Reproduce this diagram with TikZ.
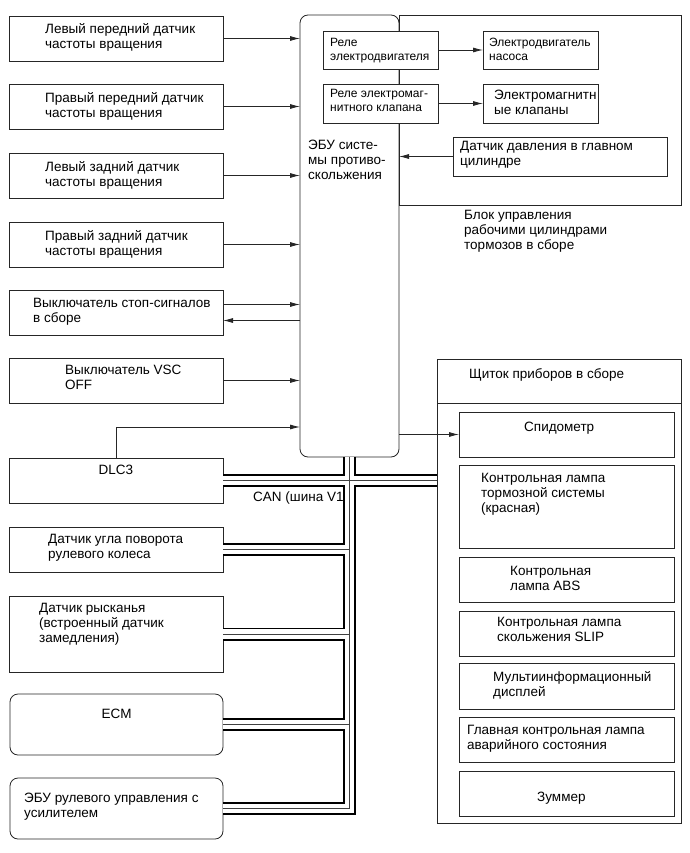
\documentclass[tikz,border=0pt]{standalone}
\usepackage{fontspec}
\setmainfont{Liberation Sans}
\usetikzlibrary{positioning, arrows.meta}

\begin{document}
\begin{tikzpicture}[x=1pt, y=-1pt,
    box/.style={rectangle, draw=black!85, line width=.8pt, fill=white, inner sep=0pt, outer sep=0pt, anchor=north west},
    lbox/.style={box, minimum width=214pt, minimum height=45pt},
    rbox/.style={box, rounded corners=8pt, minimum width=213pt, minimum height=61pt},
    pbox/.style={box, minimum width=215pt, minimum height=45pt},
    hbox/.style={box, minimum width=115pt, minimum height=38pt},
    txt/.style={inner sep=0pt, align=left, font=\fontsize{13.5}{15}\selectfont},
    stxt/.style={txt, font=\fontsize{12}{14}\selectfont},
    sig/.style={draw=black!85, line width=.8pt, -{Latex[length=10pt, width=5pt]}},
    can/.style={draw=white, line width=9.6pt, preaction={draw=black, line width=13pt}, postaction={draw=black!75, line width=.6pt}}
  ]
    \useasboundingbox (0,0) rectangle (689,853);

    % Sensors and switches
    \node[lbox] (lf) at (9,16) {};
    \node[txt, below right=7pt and 36pt of lf.north west] (lft) {Левый передний датчик\\частоты вращения};
    \node[lbox] (rf) at (9,84) {};
    \node[txt, below right=8pt and 36pt of rf.north west] (rft) {Правый передний датчик\\частоты вращения};
    \node[lbox] (lr) at (9,153) {};
    \node[txt, below right=8pt and 36pt of lr.north west] (lrt) {Левый задний датчик\\частоты вращения};
    \node[lbox] (rr) at (9,222) {};
    \node[txt, below right=8pt and 36pt of rr.north west] (rrt) {Правый задний датчик\\частоты вращения};
    \node[lbox] (stop) at (9,290) {};
    \node[txt, below right=8pt and 24pt of stop.north west] (stopt) {Выключатель стоп-сигналов\\в сборе};
    \node[lbox] (vsc) at (9,358) {};
    \node[txt, below right=7pt and 56pt of vsc.north west] (vsct) {Выключатель VSC\\OFF};
    \node[lbox] (dlc) at (9,458) {};
    \node[txt, below=7pt of dlc.north] (dlct) {DLC3};
    \node[lbox] (ang) at (9,527) {};
    \node[txt, below right=7pt and 39pt of ang.north west] (angt) {Датчик угла поворота\\рулевого колеса};
    \node[lbox, minimum height=76pt] (yaw) at (9,596) {};
    \node[txt, below right=7pt and 30pt of yaw.north west] (yawt) {Датчик рысканья\\(встроенный датчик\\замедления)};
    \node[rbox] (ecm) at (10,694) {};
    \node[txt, below=15pt of ecm.north] (ecmt) {ECM};
    \node[rbox] (eps) at (10,778) {};
    \node[txt, below right=15pt and 14pt of eps.north west] (epst) {ЭБУ рулевого управления с\\усилителем};

    % Skid control ECU and brake actuator
    \node[box, rounded corners=8pt, minimum width=99pt, minimum height=442pt] (ecu) at (300,15) {};
    \node[txt, below right=125pt and 8pt of ecu.north west] (ecut) {ЭБУ систе-\\мы противо-\\скольжения};
    \node[box, fill=none, minimum width=282pt, minimum height=190pt] (hcu) at (399,15) {};
    \node[txt, below right=5pt and 65pt of hcu.south west] (hcut) {Блок управления\\рабочими цилиндрами\\тормозов в сборе};
    \node[hbox] (rel1) at (323,31) {};
    \node[stxt, below right=7pt and 7pt of rel1.north west] (rel1t) {Реле\\электродвигателя};
    \node[hbox] (pump) at (483,31) {};
    \node[stxt, below right=7pt and 6pt of pump.north west] (pumpt) {Электродвигатель\\насоса};
    \node[hbox, minimum height=39pt] (rel2) at (323,84) {};
    \node[stxt, below right=5pt and 7pt of rel2.north west] (rel2t) {Реле электромаг-\\нитного клапана};
    \node[hbox, minimum height=39pt] (sol) at (483,84) {};
    \node[txt, below right=6pt and 11pt of sol.north west] (solt) {Электромагнитн\\ые клапаны};
    \node[box, minimum width=214pt, minimum height=39pt] (mcs) at (453,137) {};
    \node[txt, below right=4pt and 7pt of mcs.north west] (mcst) {Датчик давления в главном\\цилиндре};

    % Combination meter
    \node[box, fill=none, minimum width=244pt, minimum height=464pt] (panel) at (437,359) {};
    \draw[draw=black!85, line width=.8pt] ([yshift=-44pt]panel.north west) -- ([yshift=-44pt]panel.north east);
    \node[txt, below right=9pt and 32pt of panel.north west] (panelt) {Щиток приборов в сборе};
    \node[pbox] (spd) at (459,412) {};
    \node[txt, below right=10pt and 65pt of spd.north west] (spdt) {Спидометр};
    \node[pbox, minimum height=83pt] (brk) at (459,465) {};
    \node[txt, below right=8pt and 22pt of brk.north west] (brkt) {Контрольная лампа\\тормозной системы\\(красная)};
    \node[pbox] (abs) at (459,557) {};
    \node[txt, below right=9pt and 51pt of abs.north west] (abst) {Контрольная\\лампа ABS};
    \node[pbox] (slip) at (459,611) {};
    \node[txt, below right=6pt and 38pt of slip.north west] (slipt) {Контрольная лампа\\скольжения SLIP};
    \node[pbox, minimum height=46pt] (mfd) at (459,663) {};
    \node[txt, below right=8pt and 34pt of mfd.north west] (mfdt) {Мультиинформационный\\дисплей};
    \node[pbox] (mil) at (459,717) {};
    \node[txt, below right=8pt and 8pt of mil.north west] (milt) {Главная контрольная лампа\\аварийного состояния};
    \node[pbox] (buz) at (459,771) {};
    \node[txt, below right=21pt and 78pt of buz.north west] (buzt) {Зуммер};

    % Signals
    \draw[sig] (lf.east) -- (lf.east -| ecu.west);
    \draw[sig] (rf.east) -- (rf.east -| ecu.west);
    \draw[sig] (lr.east) -- (lr.east -| ecu.west);
    \draw[sig] (rr.east) -- (rr.east -| ecu.west);
    \draw[sig] ([yshift=8pt]stop.east) -- ([yshift=8pt]stop.east -| ecu.west);
    \draw[sig] ([yshift=-8pt]stop.east -| ecu.west) -- ([yshift=-8pt]stop.east);
    \draw[sig] (vsc.east) -- (vsc.east -| ecu.west);
    \draw[sig] (dlc.north) |- ([yshift=30pt]ecu.south west);
    \draw[sig] (rel1) -- (pump);
    \draw[sig] (rel2) -- (sol);
    \draw[sig] (mcs.west) -- (mcs.west -| ecu.east);
    \draw[sig] (spd.west -| ecu.east) -- (spd.west);

    % CAN bus
    \node[txt, below right=11pt and 30pt of dlc.east] (cant) {CAN (шина V1)};
    \draw[can] (ecu.south) -- (ecu.south |- eps.east) -- (eps.east)
      (dlc.east) -- (panel.west |- dlc.east)
      (ang.east) -- (ang.east -| ecu.south)
      (yaw.east) -- (yaw.east -| ecu.south)
      (ecm.east) -- (ecm.east -| ecu.south);
\end{tikzpicture}
\end{document}
